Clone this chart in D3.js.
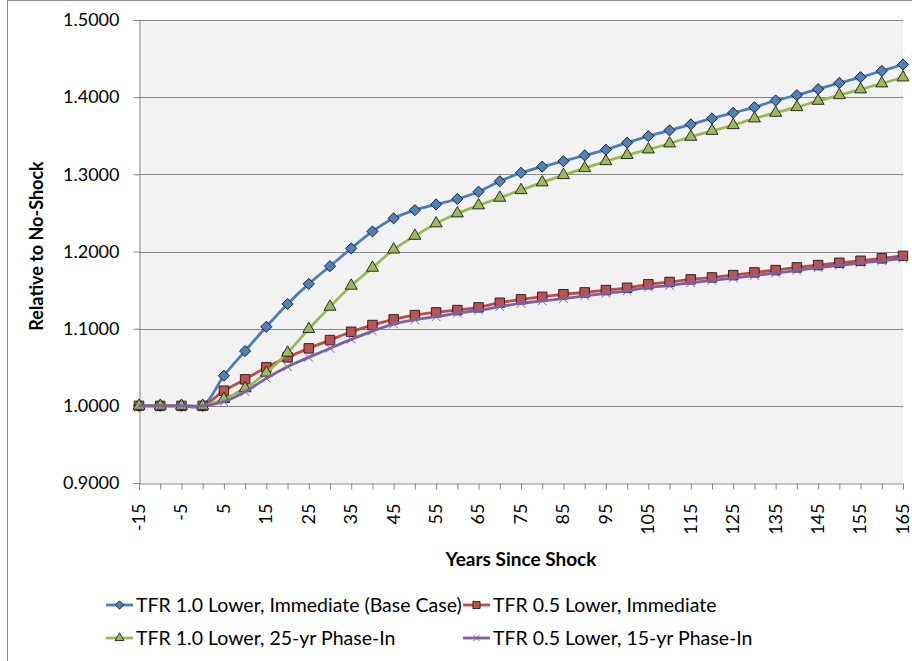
<!DOCTYPE html>
<html>
<head>
<meta charset="utf-8">
<script src="https://cdn.jsdelivr.net/npm/d3@7"></script>
<style>
  html, body { margin: 0; padding: 0; background: #fff; }
  svg { display: block; font-family: Lato, "Open Sans", sans-serif; }
</style>
</head>
<body>
<svg id="chart" width="912" height="661"></svg>
<script>
// ── Data ─────────────────────────────────────────────────────────────────────
const years = [-15, -10, -5, 0, 5, 10, 15, 20, 25, 30, 35, 40, 45, 50, 55, 60, 65, 70, 75,
  80, 85, 90, 95, 100, 105, 110, 115, 120, 125, 130, 135, 140, 145, 150, 155, 160, 165];

const tfr10Immediate = [1.0, 1.0, 1.0, 1.0, 1.039, 1.071, 1.1025, 1.132, 1.158, 1.181, 1.204,
  1.226, 1.243, 1.2536, 1.261, 1.268, 1.2775, 1.291, 1.302, 1.310, 1.317, 1.3245, 1.332,
  1.341, 1.3495, 1.357, 1.3647, 1.3724, 1.3797, 1.387, 1.3957, 1.4026, 1.4104, 1.4185,
  1.4259, 1.434, 1.4423];

const tfr05Immediate = [1.0, 1.0, 1.0, 1.0, 1.0196, 1.0343, 1.0499, 1.0628, 1.0745, 1.0852,
  1.096, 1.1047, 1.112, 1.1176, 1.1211, 1.1241, 1.1276, 1.1336, 1.138, 1.1413, 1.1446,
  1.147, 1.150, 1.153, 1.1575, 1.1605, 1.1639, 1.1664, 1.1694, 1.1729, 1.1759, 1.1794,
  1.1824, 1.1854, 1.188, 1.1911, 1.1944];

const tfr10Phase25 = [1.0, 1.0, 1.0, 1.0, 1.0088, 1.0227, 1.0429, 1.0688, 1.0995, 1.1284,
  1.1556, 1.1789, 1.2025, 1.2203, 1.2364, 1.2493, 1.2597, 1.2696, 1.2795, 1.2895, 1.299,
  1.308, 1.317, 1.325, 1.3322, 1.340, 1.3486, 1.3563, 1.3637, 1.3724, 1.3797, 1.387,
  1.3952, 1.4026, 1.410, 1.4178, 1.4255];

const tfr05Phase15 = [1.0, 1.0, 1.0, 1.0, 1.0053, 1.0183, 1.0356, 1.0507, 1.0628, 1.0745,
  1.0861, 1.0969, 1.106, 1.1115, 1.1155, 1.12, 1.1238, 1.1285, 1.1328, 1.136, 1.139,
  1.1425, 1.1458, 1.149, 1.1535, 1.156, 1.1595, 1.1625, 1.1655, 1.169, 1.172, 1.1755,
  1.179, 1.182, 1.185, 1.188, 1.191];

const seriesNames = [
  "TFR 1.0 Lower, Immediate (Base Case)",
  "TFR 0.5 Lower, Immediate",
  "TFR 1.0 Lower, 25-yr Phase-In",
  "TFR 0.5 Lower, 15-yr Phase-In"
];

const yTicks = [0.9, 1.0, 1.1, 1.2, 1.3, 1.4, 1.5];

// ── Style ────────────────────────────────────────────────────────────────────
const styles = [
  { line: "#4A7EBB", fill: "#4F81BD", shape: "diamond" },
  { line: "#BE4B48", fill: "#C0504D", shape: "square" },
  { line: "#98B954", fill: "#9BBB59", shape: "triangle" },
  { line: "#7D60A0", fill: "#8064A2", shape: "x" }
];
const series = [tfr10Immediate, tfr05Immediate, tfr10Phase25, tfr05Phase15]
  .map((values, i) => ({ name: seriesNames[i], values, ...styles[i] }));

const PLOT = { left: 139, right: 903, top: 20, bottom: 483 };
const GRID = "#878787";

const svg = d3.select("#chart");

// outer chart border
svg.append("rect")
  .attr("x", 7.5).attr("y", 0.5).attr("width", 940).attr("height", 700)
  .attr("fill", "#fff").attr("stroke", "#8c8c8c").attr("stroke-width", 1);

const x = d3.scalePoint().domain(years).range([PLOT.left, PLOT.right]).padding(0);
const y = d3.scaleLinear().domain([0.9, 1.5]).range([PLOT.bottom, PLOT.top]);

// plot area
svg.append("rect")
  .attr("x", PLOT.left).attr("y", PLOT.top)
  .attr("width", PLOT.right - PLOT.left).attr("height", PLOT.bottom - PLOT.top)
  .attr("fill", "#F2F2F2");

// gridlines
svg.append("g").selectAll("line")
  .data(yTicks.slice(1))
  .join("line")
  .attr("x1", PLOT.left).attr("x2", PLOT.right)
  .attr("y1", d => Math.round(y(d)) + 0.5).attr("y2", d => Math.round(y(d)) + 0.5)
  .attr("stroke", GRID).attr("stroke-width", 1);

// y axis
const yAxisG = svg.append("g")
  .attr("transform", `translate(${PLOT.left + 0.5},0)`)
  .call(d3.axisLeft(y).tickValues(yTicks).tickFormat(d3.format(".4f")).tickSize(6).tickPadding(14));
yAxisG.select(".domain").attr("stroke", GRID);
yAxisG.selectAll(".tick line").attr("stroke", GRID);
yAxisG.selectAll(".tick text")
  .attr("font-size", "18px").attr("fill", "#000").attr("font-family", "Lato");

// x axis
const xAxisG = svg.append("g")
  .attr("transform", `translate(0,${PLOT.bottom + 0.5})`)
  .call(d3.axisBottom(x).tickSize(6).tickFormat(d => d));
xAxisG.select(".domain").attr("stroke", GRID);
xAxisG.selectAll(".tick line").attr("stroke", GRID);
xAxisG.selectAll(".tick text")
  .attr("font-size", "18px").attr("fill", "#000").attr("font-family", "Lato")
  .attr("text-anchor", "end")
  .attr("transform", "translate(0,20) rotate(-90)")
  .attr("x", 0).attr("y", 0).attr("dy", "0.3em")
  .style("display", (d, i) => i % 2 === 0 ? null : "none");

// axis titles
svg.append("text")
  .attr("transform", "translate(43,246) rotate(-90)")
  .attr("text-anchor", "middle")
  .attr("font-size", "18px").attr("font-weight", "bold")
  .text("Relative to No-Shock");

svg.append("text")
  .attr("x", 521).attr("y", 566)
  .attr("text-anchor", "middle")
  .attr("font-size", "19px").attr("font-weight", "bold")
  .text("Years Since Shock");

// ── Markers ──────────────────────────────────────────────────────────────────
function drawMarker(g, shape, s, scale) {
  const k = scale || 1;
  if (shape === "diamond") {
    g.append("path")
      .attr("d", d3.symbol(d3.symbolSquare, 62 * k * k)())
      .attr("transform", "rotate(45)")
      .attr("fill", s.fill).attr("stroke", "#1a1a1a").attr("stroke-width", 0.9);
  } else if (shape === "square") {
    g.append("path")
      .attr("d", d3.symbol(d3.symbolSquare, 90 * k * k)())
      .attr("fill", s.fill).attr("stroke", "#1a1a1a").attr("stroke-width", 0.9);
  } else if (shape === "triangle") {
    g.append("path")
      .attr("d", d3.symbol(d3.symbolTriangle, 62 * k * k)())
      .attr("fill", s.fill).attr("stroke", "#1a1a1a").attr("stroke-width", 0.9);
  } else {
    g.append("path")
      .attr("d", d3.symbol(d3.symbolX, 50 * k * k)())
      .attr("fill", "none").attr("stroke", s.fill).attr("stroke-width", 1);
  }
}

// ── Series ───────────────────────────────────────────────────────────────────
const line = d3.line()
  .x((d, i) => x(years[i]))
  .y(d => y(d))
  .curve(d3.curveCatmullRom.alpha(0.5));

series.forEach(s => {
  const g = svg.append("g");
  g.append("path")
    .attr("d", line(s.values))
    .attr("fill", "none")
    .attr("stroke", s.line)
    .attr("stroke-width", 2.8)
    .attr("stroke-linejoin", "round");
  s.values.forEach((v, i) => {
    const m = g.append("g").attr("transform", `translate(${x(years[i])},${y(v)})`);
    drawMarker(m, s.shape, s);
  });
});

// ── Legend ───────────────────────────────────────────────────────────────────
const legendPos = [
  { x: 106, y: 605 }, { x: 463, y: 605 },
  { x: 106, y: 638 }, { x: 463, y: 638 }
];
series.forEach((s, i) => {
  const p = legendPos[i];
  const g = svg.append("g").attr("transform", `translate(${p.x},${p.y})`);
  g.append("line")
    .attr("x1", 0).attr("x2", 27).attr("y1", 0).attr("y2", 0)
    .attr("stroke", s.line).attr("stroke-width", 2.8);
  const m = g.append("g").attr("transform", "translate(13.5,0)");
  drawMarker(m, s.shape, s, 0.75);
  g.append("text")
    .attr("x", 30).attr("y", 0).attr("dy", "0.35em")
    .attr("font-size", "19.5px").attr("fill", "#000")
    .text(s.name);
});
</script>
</body>
</html>
